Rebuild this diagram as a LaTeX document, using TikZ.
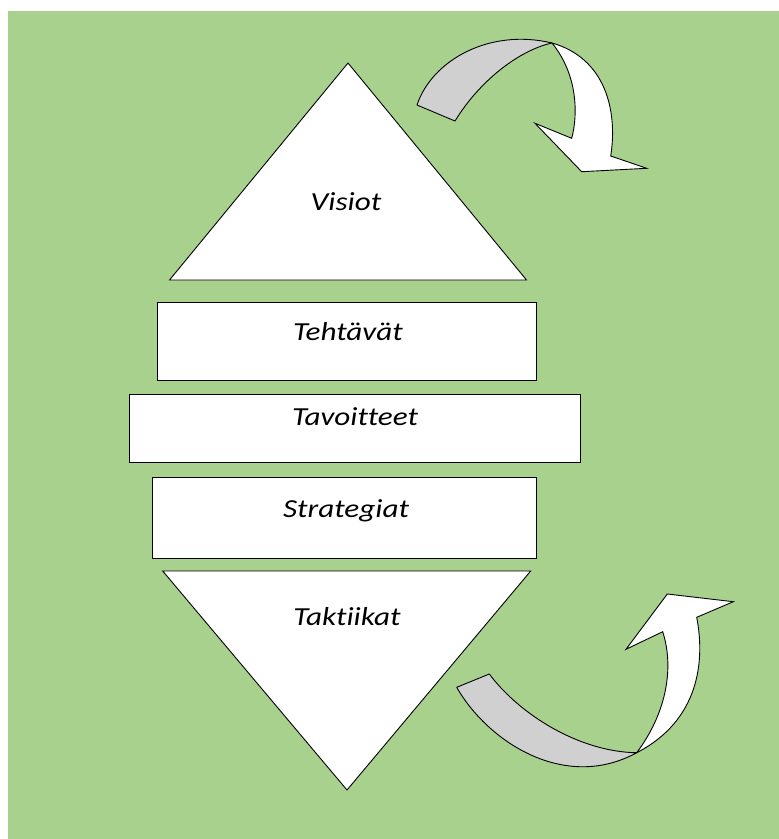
\documentclass[tikz,border=0pt]{standalone}
\usepackage{fontspec}
\setmainfont[FakeStretch=1.2,Ligatures=NoCommon]{Carlito}
\begin{document}
\begin{tikzpicture}[x=1pt,y=-1pt,
  shapeline/.style={draw=black,line width=0.9pt,line join=miter},
  panel/.style={shapeline,fill=white,rectangle,inner sep=0pt},
  lbl/.style={anchor=base,inner sep=0pt,font=\fontsize{26}{30}\selectfont\itshape},
  backside/.style={shapeline,fill=arrowgray,line join=round},
  frontside/.style={shapeline,fill=white,line join=miter}]
\definecolor{bggreen}{HTML}{A9D18E}
\definecolor{arrowgray}{HTML}{D0D0D0}
\useasboundingbox (0,0) rectangle (779,839);
\fill[bggreen] (8,11) rectangle (779,839);

% upper triangle
\coordinate (ta) at (348,63);
\coordinate (tl) at (169.5,280);
\coordinate (tr) at (526.5,280);
\draw[shapeline,fill=white] (ta) -- (tl) -- (tr) -- cycle;
\node[lbl] (visiot) at (346,210) {Visiot};

% middle panels
\node[panel,minimum width=379.4pt,minimum height=78pt] (p1) at (347,341) {};
\node[panel,minimum width=451.7pt,minimum height=68.7pt] (p2) at (354.9,428.3) {};
\node[panel,minimum width=384pt,minimum height=80.6pt] (p3) at (344.7,518) {};
\node[lbl] (teht) at (348,340) {Tehtävät};
\node[lbl] (tavo) at (355,425) {Tavoitteet};
\node[lbl] (stra) at (346,517) {Strategiat};

% lower triangle
\coordinate (bl) at (162.7,571);
\coordinate (br) at (530.7,571);
\coordinate (bb) at (347,790);
\draw[shapeline,fill=white] (bl) -- (br) -- (bb) -- cycle;
\node[lbl] (takt) at (347,625) {Taktiikat};

% upper curved arrow
\coordinate (uc) at (552,43);
\draw[backside] (417,105) .. controls (432,60) and (490,28) .. (uc)
  .. controls (520,50) and (480,80) .. (455,121) -- cycle;
\draw[frontside] (uc) .. controls (578,75) and (578,115) .. (571.7,138.3)
  -- (535,123.3) -- (581.7,171.7) -- (646.7,168.3) -- (610.7,156)
  .. controls (618,110) and (605,58) .. (uc) -- cycle;

% lower curved arrow
\coordinate (lc) at (636.7,752.7);
\draw[backside] (456.7,687.3) .. controls (488,742) and (565,792) .. (lc)
  .. controls (580,752) and (520,715) .. (489.3,674) -- cycle;
\draw[frontside] (lc) .. controls (665,715) and (675,670) .. (662.7,631.7)
  -- (626,649.3) -- (667.3,594) -- (733.3,601.7) -- (696.7,617.3)
  .. controls (705,660) and (700,720) .. (lc) -- cycle;
\end{tikzpicture}
\end{document}
